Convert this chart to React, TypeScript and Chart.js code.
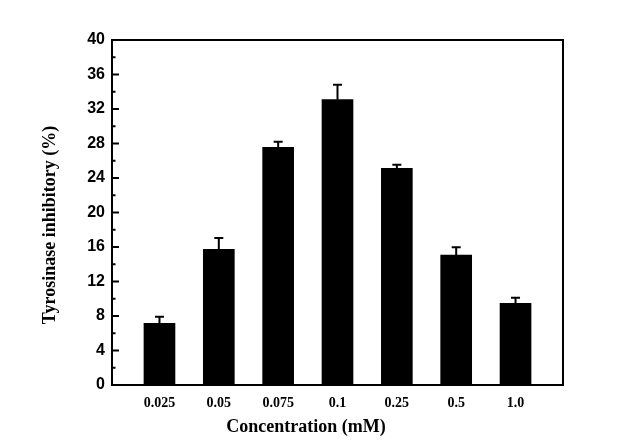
import React, { useEffect, useRef } from "react";
import { Chart, registerables } from "chart.js";

Chart.register(...registerables);

const categories = ["0.025", "0.05", "0.075", "0.1", "0.25", "0.5", "1.0"];
const inhibition = [7.15, 15.73, 27.56, 33.08, 25.12, 15.07, 9.47];
const errors = [0.77, 1.3, 0.65, 1.74, 0.42, 0.9, 0.65];
const yTickStep = 4;
const xTitle = "Concentration (mM)";
const yTitle = "Tyrosinase inhibitory (%)";

const serif = "'Liberation Serif', 'Times New Roman', serif";
const sans = "'Liberation Sans', Arial, sans-serif";

const framePlugin = {
  id: "frame",
  afterDraw(chart: any) {
    const { ctx, chartArea: a, scales } = chart;
    const ys = scales.y;
    ctx.save();
    // error bars
    const meta = chart.getDatasetMeta(0);
    ctx.strokeStyle = "#000";
    ctx.lineWidth = 2;
    meta.data.forEach((bar: any, i: number) => {
      const yTop = ys.getPixelForValue(inhibition[i] + errors[i]);
      ctx.beginPath();
      ctx.moveTo(bar.x, bar.y);
      ctx.lineTo(bar.x, yTop);
      ctx.moveTo(bar.x - 4.5, yTop);
      ctx.lineTo(bar.x + 4.5, yTop);
      ctx.stroke();
    });
    // box
    ctx.lineWidth = 2;
    ctx.strokeRect(a.left, a.top, a.right - a.left, a.bottom - a.top);
    // inward y ticks (major + minor)
    for (let v = ys.min; v <= ys.max + 1e-9; v += yTickStep / 2) {
      const major = Math.abs(v / yTickStep - Math.round(v / yTickStep)) < 1e-6;
      const py = ys.getPixelForValue(v);
      ctx.beginPath();
      ctx.moveTo(a.left, py);
      ctx.lineTo(a.left + (major ? 7 : 3.5), py);
      ctx.stroke();
    }
    // titles
    ctx.fillStyle = "#000";
    ctx.font = `bold 18px ${serif}`;
    ctx.textAlign = "center";
    ctx.textBaseline = "middle";
    ctx.fillText(xTitle, a.left + 194, a.bottom + 42);
    ctx.translate(50, a.top + 185);
    ctx.rotate(-Math.PI / 2);
    ctx.fillText(yTitle, 0, 0);
    ctx.restore();
  },
};

export default function App() {
  const ref = useRef<HTMLCanvasElement | null>(null);
  useEffect(() => {
    if (!ref.current) return;
    const chart = new Chart(ref.current, {
      type: "bar",
      data: {
        datasets: [
          {
            data: inhibition.map((v, i) => ({ x: i, y: v })),
            backgroundColor: "#000",
            borderWidth: 0,
            barThickness: 31,
          },
        ],
      },
      options: {
        responsive: false,
        animation: false,
        layout: { padding: { top: 40, right: 69, left: 0, bottom: 0 } },
        plugins: { legend: { display: false }, tooltip: { enabled: false } },
        scales: {
          x: {
            type: "linear",
            min: -0.8,
            max: 6.8,
            offset: false,
            grid: { display: false, drawTicks: false },
            border: { display: false },
            afterBuildTicks: (axis: any) => {
              axis.ticks = categories.map((_, i) => ({ value: i }));
            },
            afterFit: (axis: any) => {
              axis.height = 62;
            },
            ticks: {
              autoSkip: false,
              maxRotation: 0,
              padding: 10,
              color: "#000",
              font: { family: serif, size: 14, weight: "bold" },
              callback: (v: any) => categories[Math.round(Number(v))] ?? "",
            },
          },
          y: {
            min: 0,
            max: 40,
            grid: { display: false, drawTicks: false },
            border: { display: false },
            afterFit: (axis: any) => {
              axis.width = 112;
            },
            ticks: {
              stepSize: yTickStep,
              padding: 7,
              color: "#000",
              font: { family: sans, size: 16, weight: "bold" },
            },
          },
        },
      },
      plugins: [framePlugin],
    } as any);
    return () => chart.destroy();
  }, []);
  return (
    <div style={{ position: "fixed", left: 0, top: 0, width: 632, height: 447, background: "#fff" }}>
      <canvas ref={ref} width={632} height={447} style={{ width: 632, height: 447 }} />
    </div>
  );
}
